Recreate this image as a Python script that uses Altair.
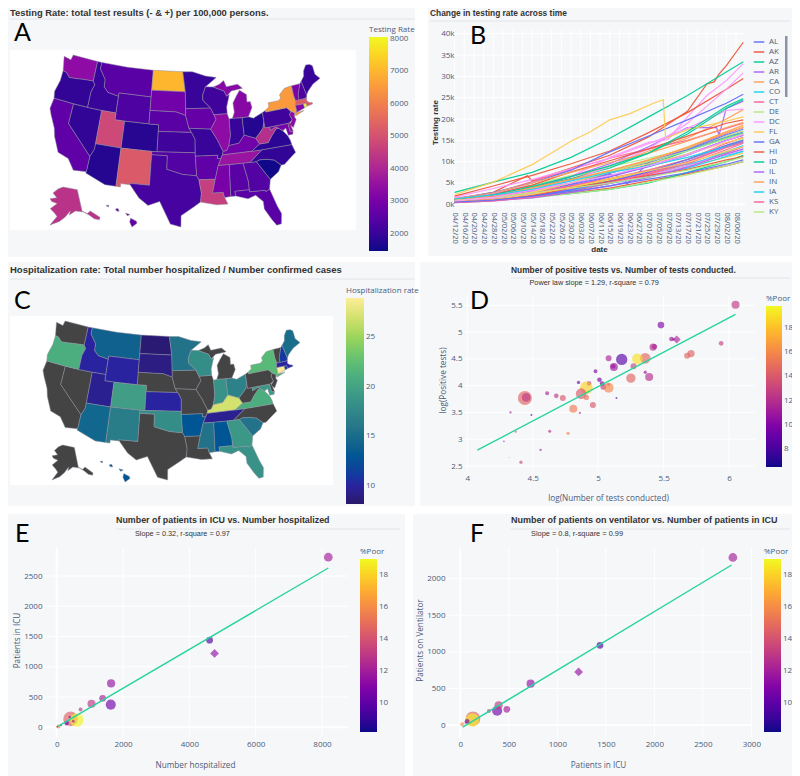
import math
import altair as alt
import pandas as pd

# ---------------------------------------------------------------- map data (lon, lat)
STATES = {
 "WA": [[(-124.7,48.4),(-123,48.2),(-122.8,49),(-117,49),(-117,46),(-119,45.9),(-121,45.7),(-122.3,45.6),(-123.2,46.2),(-124,46.3)]],
 "OR": [[(-124,46.3),(-123.2,46.2),(-122.3,45.6),(-121,45.7),(-119,45.9),(-117,46),(-116.5,45.5),(-117,44.3),(-117,42),(-120,42),(-124.2,42),(-124.5,43),(-124,44.8)]],
 "CA": [[(-124.2,42),(-120,42),(-120,39),(-114.6,35),(-114.7,32.7),(-117.1,32.5),(-118.5,34),(-120.6,34.5),(-122,36.6),(-122.5,37.8),(-123.8,39.5),(-124.4,40.4)]],
 "NV": [[(-120,42),(-117,42),(-114,42),(-114,37),(-114,36.2),(-114.6,35),(-120,39)]],
 "ID": [[(-117,49),(-116,49),(-116,48),(-114.5,46.6),(-114.4,45.5),(-113.4,44.8),(-111,44.5),(-111,42),(-114,42),(-117,42),(-117,44.3),(-116.5,45.5),(-117,46)]],
 "MT": [[(-116,49),(-110,49),(-104,49),(-104,46),(-104,45),(-111,45),(-111,44.5),(-113.4,44.8),(-114.4,45.5),(-114.5,46.6),(-116,48)]],
 "WY": [[(-111,45),(-104,45),(-104,43),(-104,41),(-109,41),(-111,41),(-111,42),(-111,44.5)]],
 "UT": [[(-114,42),(-111,42),(-111,41),(-109,41),(-109,37),(-114,37)]],
 "CO": [[(-109,41),(-104,41),(-102,41),(-102,40),(-102,37),(-103,37),(-109,37)]],
 "AZ": [[(-114,37),(-109,37),(-109,31.3),(-111,31.3),(-114.8,32.5),(-114.7,32.7),(-114.6,35),(-114,36.2)]],
 "NM": [[(-109,37),(-103,37),(-103,36.5),(-103,32),(-106.6,32),(-106.5,31.8),(-108.2,31.8),(-108.2,31.3),(-109,31.3)]],
 "ND": [[(-104,49),(-97.2,49),(-96.6,46),(-104,46)]],
 "SD": [[(-104,46),(-96.6,46),(-96.5,43.5),(-96.5,42.5),(-98.5,43),(-104,43),(-104,45)]],
 "NE": [[(-104,43),(-98.5,43),(-96.5,42.5),(-95.8,40.6),(-95.3,40),(-102,40),(-102,41),(-104,41)]],
 "KS": [[(-102,40),(-95.3,40),(-94.6,39),(-94.6,37),(-102,37)]],
 "OK": [[(-103,37),(-102,37),(-94.6,37),(-94.6,36.5),(-94.4,33.6),(-97,33.8),(-100,34.5),(-100,36.5),(-103,36.5)]],
 "TX": [[(-106.6,32),(-103,32),(-103,36.5),(-100,36.5),(-100,34.5),(-97,33.8),(-94.4,33.6),(-94,33),(-93.6,31),(-93.8,29.7),(-95,29),(-97.2,27.7),(-97.2,26),(-99,26.4),(-101,29.7),(-103,29),(-104.7,30),(-106.5,31.8)]],
 "MN": [[(-97.2,49),(-95,49),(-92,48.3),(-89.6,48),(-92.1,46.7),(-92.8,45.5),(-92.8,44.7),(-91.2,43.5),(-96.5,43.5),(-96.6,46)]],
 "IA": [[(-96.5,43.5),(-91.2,43.5),(-90.6,42.5),(-90.2,41.8),(-91.4,40.4),(-95.8,40.6),(-96.5,42.5)]],
 "MO": [[(-95.8,40.6),(-91.4,40.4),(-90.2,38.8),(-89.2,37),(-89.4,36.5),(-89.7,36),(-90.4,36),(-90.3,36.5),(-94.6,36.5),(-94.6,37),(-94.6,39),(-95.3,40)]],
 "AR": [[(-94.6,36.5),(-90.3,36.5),(-90.4,36),(-89.7,36),(-90.3,35),(-91,33),(-94,33),(-94.4,33.6)]],
 "LA": [[(-94,33),(-91,33),(-91.6,31),(-89.7,31),(-89.5,30.2),(-89,29.2),(-91,29.2),(-93.8,29.7),(-93.6,31)]],
 "WI": [[(-92.1,46.7),(-90.4,46.6),(-88.1,45.9),(-87.6,45.1),(-87,45.3),(-87.8,43.5),(-87.8,42.5),(-90.6,42.5),(-91.2,43.5),(-92.8,44.7),(-92.8,45.5)]],
 "IL": [[(-90.6,42.5),(-87.8,42.5),(-87.5,41.7),(-87.5,39.3),(-88,37.8),(-88.5,37.1),(-89.2,37),(-90.2,38.8),(-91.4,40.4),(-90.2,41.8)]],
 "IN": [[(-87.5,41.7),(-86.8,41.76),(-84.8,41.7),(-84.8,39.1),(-86,38),(-88,37.8),(-87.5,39.3)]],
 "OH": [[(-84.8,41.7),(-83.5,41.7),(-82.5,41.4),(-80.5,42),(-80.5,40.6),(-80.9,39.7),(-81.8,39),(-82.6,38.4),(-84.8,39.1)]],
 "KY": [[(-89.4,36.5),(-89.2,37),(-88.5,37.1),(-88,37.8),(-86,38),(-84.8,39.1),(-82.6,38.4),(-82,37.5),(-83.7,36.6)]],
 "TN": [[(-90.3,35),(-89.7,36),(-89.4,36.5),(-83.7,36.6),(-81.7,36.6),(-84.3,35),(-85.6,35),(-88.2,35)]],
 "MS": [[(-91,33),(-90.3,35),(-88.2,35),(-88.4,30.3),(-89.5,30.2),(-89.7,31),(-91.6,31)]],
 "AL": [[(-88.2,35),(-85.6,35),(-85,32.3),(-85,31),(-87.6,31),(-87.5,30.3),(-88.4,30.3)]],
 "GA": [[(-85.6,35),(-84.3,35),(-83.1,35),(-81,32.1),(-81.4,30.7),(-82.1,30.4),(-82.2,30.6),(-85,30.7),(-85,31),(-85,32.3)]],
 "FL": [[(-87.6,31),(-85,31),(-85,30.7),(-82.2,30.6),(-82.1,30.4),(-81.4,30.7),(-80.5,28),(-80,26.8),(-80.3,25.3),(-81.1,25.2),(-81.8,26.2),(-82.8,27.9),(-82.8,29),(-84,30.1),(-85.4,29.7),(-87.5,30.3)]],
 "SC": [[(-83.1,35),(-82.4,35.2),(-81,35.1),(-79.7,34.8),(-78.6,33.9),(-79.3,33),(-81,32.1)]],
 "NC": [[(-84.3,35),(-81.7,36.6),(-75.9,36.55),(-75.5,35.3),(-76.6,34.7),(-78,33.9),(-78.6,33.9),(-79.7,34.8),(-81,35.1),(-82.4,35.2),(-83.1,35)]],
 "VA": [[(-83.7,36.6),(-82,37.5),(-80.3,37.5),(-79.4,38.4),(-78.3,39.3),(-77.8,39.3),(-77.1,38.8),(-76.3,37.9),(-76,37.2),(-75.9,36.55),(-81.7,36.6)]],
 "WV": [[(-82.6,38.4),(-81.8,39),(-80.9,39.7),(-80.5,40.6),(-80.5,39.72),(-79.5,39.72),(-79.5,39.2),(-78.3,39.6),(-77.8,39.3),(-78.3,39.3),(-79.4,38.4),(-80.3,37.5),(-82,37.5)]],
 "MD": [[(-79.5,39.72),(-75.8,39.72),(-75.7,38.45),(-75.1,38.45),(-75.3,38),(-76.2,38),(-76.4,39.1),(-77.1,38.8),(-77.8,39.3),(-78.3,39.6),(-79.5,39.2)]],
 "DE": [[(-75.8,39.72),(-75.4,39.8),(-75.1,38.45),(-75.7,38.45)]],
 "DC": [[(-77.12,38.93),(-77.04,39),(-76.95,38.9),(-77.04,38.8)]],
 "PA": [[(-80.5,42),(-79.8,42.25),(-79.8,42),(-75.4,42),(-74.7,41.36),(-75.1,40.9),(-74.8,40.1),(-75.4,39.8),(-75.8,39.72),(-79.5,39.72),(-80.5,39.72),(-80.5,40.6)]],
 "NJ": [[(-75.1,40.9),(-74.7,41.36),(-74,41),(-74.2,40.4),(-74,40),(-74.9,38.95),(-75.5,39.5),(-74.8,40.1)]],
 "NY": [[(-79.8,42.25),(-79,42.7),(-79,43.27),(-76.8,43.3),(-76.2,43.6),(-76.3,44.1),(-75,44.9),(-73.35,45),(-73.4,43.6),(-73.25,42.75),(-73.5,42.05),(-73.5,41.3),(-73.65,41),(-72,41),(-73.9,40.55),(-74,41),(-74.7,41.36),(-75.4,42),(-79.8,42)]],
 "CT": [[(-73.5,42.05),(-71.8,42),(-71.8,41.35),(-73.65,41),(-73.5,41.3)]],
 "RI": [[(-71.8,42),(-71.35,42),(-71.15,41.5),(-71.8,41.35)]],
 "MA": [[(-73.25,42.75),(-72.5,42.73),(-71.3,42.7),(-70.8,42.85),(-71,42.3),(-70.6,41.95),(-70,41.8),(-70,41.6),(-71.15,41.5),(-71.35,42),(-71.8,42),(-73.5,42.05)]],
 "VT": [[(-73.35,45),(-71.5,45),(-72.4,43.5),(-72.5,42.73),(-73.25,42.75),(-73.4,43.6)]],
 "NH": [[(-71.5,45),(-71.1,45.3),(-70.7,43.1),(-70.8,42.85),(-71.3,42.7),(-72.5,42.73),(-72.4,43.5)]],
 "ME": [[(-71.1,45.3),(-70.3,45.9),(-70,46.7),(-69.2,47.45),(-68.3,47.35),(-67.8,47.05),(-67.8,45.7),(-67,44.9),(-68.8,44.4),(-70.2,43.6),(-70.7,43.1)]],
 "MI": [[(-86.8,41.76),(-84.8,41.7),(-83.5,41.7),(-82.5,43),(-82.7,43.9),(-83.4,43.9),(-83.3,45),(-84.7,45.75),(-85.5,45),(-86.4,44),(-86.3,42.6)],
        [(-90.4,46.6),(-89,46.95),(-88,47.45),(-87.5,46.5),(-85,46.7),(-84,46),(-84.7,45.95),(-86.5,45.8),(-87.6,45.1),(-88.1,45.9)]],
 "AK": [[(-156.5,71.3),(-141,69.7),(-141,60.3),(-137.5,58.9),(-135,59.7),(-130,55.9),(-131,55),(-134,56),(-136.5,58),(-140,59.8),(-146,60.8),(-151,59.3),(-150,61),(-154,58.5),(-158,56.5),(-164,54.6),(-160,58.5),(-162,59.8),(-166,61.5),(-161,64),(-166,64.6),(-168,65.6),(-162,66.5),(-166.5,68.3),(-162,70.3)]],
 "HI": [[(-155.9,20.25),(-155,19.8),(-154.9,19.5),(-155.7,18.95),(-156.05,19.7)],
        [(-156.7,21),(-156,20.8),(-156.4,20.6)],
        [(-158.3,21.6),(-157.9,21.7),(-157.7,21.3),(-158.1,21.3)],
        [(-159.8,22.1),(-159.4,22.2),(-159.4,21.9)]],
}
TESTING = {"ND":7000,"NY":6500,"RI":8000,"MA":5200,"NM":5200,"UT":4800,"LA":4600,"AK":4300,"WV":4200,"WA":3400,
 "TN":3600,"IL":3400,"MI":3300,"NJ":3400,"CT":3200,"VT":3100,"MD":3000,"DE":3500,"MS":3000,"KY":2900,"MT":2500,
 "SD":2900,"NE":2500,"WY":2300,"IA":2700,"OK":2400,"AR":2600,"AL":2500,"GA":2400,"FL":2500,"TX":2200,"CA":2600,
 "OR":1900,"ID":2000,"NV":1900,"AZ":1700,"CO":1750,"KS":2100,"MO":2000,"MN":2000,"WI":2100,"IN":2000,"OH":1700,
 "PA":2100,"VA":1800,"NC":1900,"SC":1500,"ME":2000,"NH":2300,"HI":2700,"DC":3300}
HOSP = {"OR":21,"ID":10,"MT":14,"WY":10,"ND":8.5,"SD":9,"MN":15.5,"WI":18,"CO":19.5,"UT":9.5,"AZ":14.5,"NM":16.5,
 "KS":10,"OK":18,"AR":13,"MS":15.5,"AL":13,"TN":9.5,"KY":27,"OH":17,"IN":18.5,"GA":19,"FL":18.5,"SC":15.5,"VA":21,
 "MD":19,"DC":19,"NY":22,"ME":15,"NH":11,"MA":10,"RI":11,"CT":29,"HI":13}

# ---------------------------------------------------------------- panel B data
STATE_ORDER = ["AL","AK","AZ","AR","CA","CO","CT","DE","DC","FL","GA","HI","ID","IL","IN","IA","KS","KY","LA","ME",
 "MD","MA","MI","MN","MS","MO","MT","NE","NV","NH","NJ","NM","NY","NC","ND","OH","OK","OR","PA","RI","SC","SD","TN",
 "TX","UT","VT","VA","WA","WV","WI","WY"]
KNOTS = ["04/12/20","04/28/20","05/14/20","05/30/20","06/15/20","07/01/20","07/17/20","08/02/20","08/09/20"]
RATE = {
 "AL":[800,1700,3000,4800,7000,9800,12800,15800,17000],
 "AK":[1200,2800,5500,8500,11500,15800,21800,32500,38000],
 "AZ":[600,1200,2300,4000,6500,9300,12500,15500,16700],
 "AR":[900,1800,3200,5000,7300,10000,13000,16600,18000],
 "CA":[700,1800,3600,6000,9000,12500,15500,20000,22200],
 "CO":[700,1300,2400,3800,5600,7800,10500,13800,15200],
 "CT":[1200,2600,5300,8200,10800,13000,15000,17800,19000],
 "DE":[1300,2600,4500,6800,8800,10800,13000,16000,17200],
 "DC":[1500,2500,4000,6500,11000,14500,20500,29000,33000],
 "FL":[1000,2200,3800,5800,7800,10200,13500,17000,18300],
 "GA":[700,1500,2800,4600,6500,8800,11500,15000,16200],
 "HI":[500,900,1700,2600,3800,5500,7200,9000,10000],
 "ID":[800,1100,1800,2500,3500,5000,7500,10000,11500],
 "IL":[900,2200,4000,6500,9500,13500,18000,22500,24200],
 "IN":[600,1300,2600,4200,6000,8000,10500,13600,14800],
 "IA":[600,1200,2300,4000,5700,7500,9400,11500,12500],
 "KS":[500,1000,2000,3200,4900,6700,9000,12000,13500],
 "KY":[600,1200,2400,4000,5800,7800,10400,13800,15200],
 "LA":[1700,3700,5800,8300,10800,14200,17800,22000,22300],
 "ME":[700,1300,2300,4000,5800,7400,8900,11000,12000],
 "MD":[800,1700,3200,5000,7300,9800,12800,16300,17600],
 "MA":[1900,4300,6800,9500,12500,16800,21500,27000,29500],
 "MI":[800,2000,4000,6000,8500,12000,16500,22500,24500],
 "MN":[500,1000,2500,4300,6500,9000,11800,15000,16200],
 "MS":[1000,2100,4000,5800,7900,10300,13300,17000,18600],
 "MO":[500,1000,2000,3200,4900,6500,8500,11200,12400],
 "MT":[1000,1800,2800,4300,6000,8000,10500,14300,15700],
 "NE":[600,1300,2800,5000,7600,10000,12500,15400,16500],
 "NV":[800,1500,3000,5500,9000,13000,19000,27000,30800],
 "NH":[700,1500,2800,5000,7500,9500,11800,14500,15500],
 "NJ":[1200,2800,5000,8000,12300,16000,19800,23700,25800],
 "NM":[1000,2300,4500,7600,10200,13000,16000,19000,19800],
 "NY":[2800,5200,7500,11000,15500,20500,25500,31000,33400],
 "NC":[500,1000,2100,3500,5300,7500,10000,13500,14700],
 "ND":[1300,2700,5000,7500,9800,12000,14800,18000,19200],
 "OH":[500,900,1800,3200,5000,7000,9000,12300,13800],
 "OK":[600,1200,2400,3800,5000,7000,9500,12800,14300],
 "OR":[500,900,1500,2500,3500,5200,6900,9000,10000],
 "PA":[800,1400,2400,3700,5000,6800,9000,11700,12800],
 "RI":[2300,5200,9300,14800,19800,23500,17500,19500,20500],
 "SC":[500,1000,1900,3400,5400,7600,10500,13800,15000],
 "SD":[600,1100,2100,3800,5400,6800,8200,10400,11200],
 "TN":[1000,2200,4200,6500,9000,12000,17000,23000,24800],
 "TX":[400,800,1500,2800,4300,6300,8700,11800,13000],
 "UT":[1000,2000,3800,5800,7900,10400,13300,16700,18000],
 "VT":[1300,2200,3500,5500,7500,9000,11000,13500,14500],
 "VA":[400,800,1700,3000,5000,7300,9900,13300,14500],
 "WA":[900,1600,2600,3800,5000,6400,8000,10000,11000],
 "WV":[800,1700,3300,5000,6800,9000,11600,14900,16400],
 "WI":[600,1100,2300,4000,6000,7800,9800,12400,13500],
 "WY":[500,1000,1900,3000,4300,5900,7400,9400,10400],
}
# finer readings of the few series whose jumps stand out
DETAIL = {
 "RI":[("05/18/20",10700),("06/07/20",17000),("06/23/20",21200),("07/03/20",23700),("07/07/20",24500),("07/08/20",15500)],
 "AK":[("05/12/20",6700),("05/14/20",5500),("07/25/20",28200),("07/28/20",28700),("07/30/20",30500)],
 "DC":[("05/12/20",4300),("05/14/20",3600),("07/09/20",15200),("07/25/20",25500)],
 "AL":[("06/21/20",6300),("06/22/20",4700)],
 "IL":[("07/29/20",18000),("07/30/20",16200)],
}
PALETTE = ["#636efa","#EF553B","#00cc96","#ab63fa","#FFA15A","#19d3f3","#FF6692","#B6E880","#FF97FF","#FECB52"]
ALL_DAYS = [d.strftime("%m/%d/%y") for d in pd.date_range("2020-04-12","2020-08-09")]
B_TICKS = ALL_DAYS[::4][:30]
LEGEND_STATES = STATE_ORDER[:18]

# ---------------------------------------------------------------- scatter data
D_X = [6.05,5.48,5.94,5.60,5.56,5.575,5.42,5.43,5.71,5.68,5.36,5.30,5.18,5.08,5.12,5.115,5.27,4.98,5.36,5.39,5.25,5.01,4.85,4.93,5.03,5.04,5.08,5.08,4.91,4.87,4.91,4.61,4.68,4.73,4.44,4.45,4.96,4.81,5.14,4.49,4.33,4.86,4.63,4.77,4.37,4.28,4.56,4.41,4.32,4.08]
D_Y = [5.51,5.13,4.79,4.86,4.87,4.865,4.72,4.73,4.60,4.56,4.51,4.50,4.49,4.51,4.35,4.36,4.36,4.27,4.25,4.16,4.14,4.11,4.06,4.04,4.04,3.98,4.02,3.96,3.96,3.85,3.78,3.86,3.81,3.77,3.77,3.78,3.64,3.57,3.77,3.45,3.50,3.49,3.15,3.11,3.14,2.96,2.80,2.57,2.66,2.80]
D_B = [10,6.8,3.3,10,3.3,1,8,4.3,8,5.5,17.4,17.4,19.7,5.5,9.8,3.3,5.5,2.4,1.7,9.8,13.3,3.3,1.7,3.3,3.3,5.5,1.7,15,24.6,17.4,4.3,2.4,3.3,5.5,30,11.5,5.5,9.8,0.6,0.6,0.8,0.8,1.4,1.7,0.8,0.4,0.8,1.7,0.1,0.3]
D_C = [12.5,10,12.8,11.5,11,11,12,11.5,14.5,14.5,14.5,19,8.5,11.5,11,11,13,10,11,12,14.5,9.5,9.5,11,9.5,12.5,14,16,18.5,14,15,11.5,12.5,14,14.5,12.5,14,15.5,9,8.5,11.5,12.5,12,16,14,10.5,11,13.5,10,14]
D_KIND = ["c","c","c","d"]+["c"]*46
D_LINE_X, D_LINE_Y = [4.08,6.05],[2.80,5.33]

E_X = [8190,4610,4760,1640,1630,1385,1050,720,420,610,390,300,130,50,20,500]
E_Y = [2810,1440,1220,725,375,480,390,295,140,120,170,70,35,15,10,100]
E_B = [6.7,4,6.7,5.8,9,4,5.8,1.4,19,16,0.4,2,0.4,1.4,0.3,0.7]
E_C = [12,9.5,11.5,11.5,10.5,12,13,13,14.5,18.8,9,10.5,11,16,12,12]
E_KIND = ["c","c","d"]+["c"]*13
E_LINE_X, E_LINE_Y = [50,8190],[20,2632]

F_X = [2810,1440,1220,725,380,480,395,295,130,125,70,20,55]
F_Y = [2290,1090,725,565,195,215,270,190,85,70,50,10,30]
F_B = [6.7,4,6.7,5.8,9,4,5.8,1.4,19,16,2,1.4,0.4]
F_C = [12,9.5,11.5,11.5,10.5,12,13,13,14.5,18.8,10.5,16,12]
F_KIND = ["c","c","d"]+["c"]*10
F_LINE_X, F_LINE_Y = [25,2797],[-30,2187]

HALINE = ["#29186b","#2a23a0","#0f4799","#125f8e","#267489","#358888","#419d85","#51b27c","#6fc66b","#a0d65b","#d4e170","#fdee99"]

# ---------------------------------------------------------------- helpers
W, H = 784, 768
FONT = "Open Sans"
TICK = "#4b5b7a"
TITLE_FONT = "Liberation Sans"
layers = []

def PX(v): return v - 8
def PY(v): return v - 8

def conic(lon, lat, lon0, lat0, p1, p2):
    r = math.radians
    s1, s2 = math.sin(r(p1)), math.sin(r(p2))
    n = (s1 + s2) / 2
    c = math.cos(r(p1))**2 + 2*n*s1
    rho0 = math.sqrt(c - 2*n*math.sin(r(lat0))) / n
    rho = math.sqrt(c - 2*n*math.sin(r(lat))) / n
    th = n * r(lon - lon0)
    return rho*math.sin(th), -(rho0 - rho*math.cos(th))

def albers(st, lon, lat):
    if st == "AK":
        return conic(lon, lat, -154, 50, 55, 65)
    if st == "HI":
        return conic(lon, lat, -157, 3, 8, 18)
    return conic(lon, lat, -96, 37.5, 29.5, 45.5)

def fit_group(names, box_):
    pts = [albers(st, *p) for st in names for ring in STATES[st] for p in ring]
    x0, x1 = min(p[0] for p in pts), max(p[0] for p in pts)
    y0, y1 = min(p[1] for p in pts), max(p[1] for p in pts)
    bx0, by0, bx1, by1 = box_
    return lambda p: [PX(bx0 + (p[0]-x0)/(x1-x0)*(bx1-bx0)), PY(by0 + (p[1]-y0)/(y1-y0)*(by1-by0))]

def features(values, main_box, ak_box, hi_box, only_missing=False):
    lower = [s for s in STATES if s not in ("AK","HI")]
    fit = {s: fit_group(lower, main_box) for s in lower}
    fit["AK"] = fit_group(["AK"], ak_box)
    fit["HI"] = fit_group(["HI"], hi_box)
    out = []
    for st, rings in STATES.items():
        has = st in values
        if has == only_missing:
            continue
        coords = []
        for ring in rings:
            r = [fit[st](albers(st, *p)) for p in ring]
            coords.append([r + [r[0]]])
        out.append({"type":"Feature","id":st,"properties":{"v":values.get(st)},
                    "geometry":{"type":"MultiPolygon","coordinates":coords}})
    return out

def box(x0,y0,x1,y1,color):
    layers.append(alt.Chart(pd.DataFrame({"a":[0]})).mark_rect(color=color,opacity=1).encode(
        x=alt.value(PX(x0)),x2=alt.value(PX(x1)),y=alt.value(PY(y0)),y2=alt.value(PY(y1))))

def hline(x0,x1,y,color="#e2e4e8"):
    layers.append(alt.Chart(pd.DataFrame({"a":[0]})).mark_rule(color=color,strokeWidth=1).encode(
        x=alt.value(PX(x0)),x2=alt.value(PX(x1)),y=alt.value(PY(y))))

def label(s,x,y,size,font=TITLE_FONT,weight="normal",color="#333333"):
    layers.append(alt.Chart(pd.DataFrame({"t":[s]})).mark_text(align="left",baseline="middle",fontSize=size,font=font,fontWeight=weight,color=color).encode(
        text="t:N",x=alt.value(PX(x)),y=alt.value(PY(y))))

def cbar(title,bar_x,bar_top,bar_bot,thick,vals):
    return alt.Legend(title=title,orient="none",legendX=PX(bar_x),legendY=PY(bar_top)-12,direction="vertical",
        gradientLength=bar_bot-bar_top,gradientThickness=thick,gradientStrokeWidth=0,gradientOpacity=1,values=vals,format="d",
        titleFont=FONT,titleFontSize=8,titleFontWeight="normal",titleColor=TICK,titlePadding=3,
        labelFont=FONT,labelFontSize=8,labelColor=TICK,labelOffset=2,labelOverlap=False,tickCount=len(vals))

def grid_v(ticks,scale,y0,y1,width=1):
    layers.append(alt.Chart(pd.DataFrame({"v":ticks})).mark_rule(color="#ffffff",strokeWidth=width).encode(
        x=alt.X("v:Q",scale=scale,axis=None),y=alt.value(PY(y0)),y2=alt.value(PY(y1))))

def grid_h(ticks,scale,x0,x1,width=1):
    layers.append(alt.Chart(pd.DataFrame({"v":ticks})).mark_rule(color="#ffffff",strokeWidth=width).encode(
        y=alt.Y("v:Q",scale=scale,axis=None),x=alt.value(PX(x0)),x2=alt.value(PX(x1))))

def scatter(xs,ys,bs,cs,kinds,lx,ly,xdom,xrng,ydom,yrng,xticks,yticks,xtitle,ytitle,frame,axis_x,axis_y,
            xtitle_pos,ytitle_pos,fmt,cdom,legend,bmax,amax,zero=False):
    x0,y0,x1,y1 = frame
    sx = alt.Scale(domain=xdom,range=[PX(xrng[0]),PX(xrng[1])],nice=False,zero=False)
    sy = alt.Scale(domain=ydom,range=[PY(yrng[0]),PY(yrng[1])],nice=False,zero=False)
    grid_v(xticks,sx,y0,y1)
    grid_h(yticks,sy,x0,x1)
    if zero:
        grid_v([0],sx,y0,y1,2)
        grid_h([0],sy,x0,x1,2)
    df = pd.DataFrame({"x":xs,"y":ys,"b":bs,"c":cs,"k":kinds})
    ax = alt.Axis(values=xticks,format=fmt,grid=False,domain=False,ticks=False,orient="bottom",offset=PY(axis_y)-H,
        labelFont=FONT,labelFontSize=8,labelColor=TICK,labelPadding=3,labelAngle=0,labelFlush=False,labelOverlap=False,zindex=1,
        title=xtitle,titleFont=FONT,titleFontSize=8.2,titleFontWeight="normal",titleColor=TICK,
        titleX=PX(xtitle_pos[0]),titleY=xtitle_pos[1]-axis_y,titleBaseline="middle",titleAlign="center",titleAnchor="start")
    ay = alt.Axis(values=yticks,format=fmt,grid=False,domain=False,ticks=False,orient="left",offset=-PX(axis_x),
        labelFont=FONT,labelFontSize=8,labelColor=TICK,labelPadding=1,labelOverlap=False,labelFlush=False,zindex=1,
        title=ytitle,titleFont=FONT,titleFontSize=8.2,titleFontWeight="normal",titleColor=TICK,
        titleX=ytitle_pos[0]-axis_x,titleY=PY(ytitle_pos[1]),titleBaseline="middle",titleAlign="center",titleAnchor="start",titleAngle=-90)
    layers.append(alt.Chart(df).mark_point(filled=True,opacity=1,fillOpacity=0.65,strokeWidth=0).encode(
        x=alt.X("x:Q",scale=sx,axis=ax),
        y=alt.Y("y:Q",scale=sy,axis=ay),
        size=alt.Size("b:Q",scale=alt.Scale(domain=[0,bmax],range=[0,amax],zero=True,nice=False),legend=None),
        shape=alt.Shape("k:N",scale=alt.Scale(domain=["c","d"],range=["circle","diamond"]),legend=None),
        color=alt.Color("c:Q",scale=alt.Scale(scheme="plasma",domain=cdom,nice=False),legend=legend)))
    layers.append(alt.Chart(pd.DataFrame({"x":lx,"y":ly})).mark_line(color="#27d49b",strokeWidth=1.4).encode(
        x=alt.X("x:Q",scale=sx,axis=None),y=alt.Y("y:Q",scale=sy,axis=None)))

# ---------------------------------------------------------------- panel backgrounds
BG = "#f6f7f9"
box(0,3,415,257,BG); box(428,4,800,256,BG); box(0,262,415,506,BG)
box(420,262,800,506,BG); box(0,514,405,776,BG); box(413,514,800,776,BG)
box(10,50,356,230,"#ffffff"); box(10,316,333,485,"#ffffff")
hline(10,415,19); hline(430,790,21); hline(10,415,279); hline(511,790,278); hline(116,400,529); hline(511,790,529)

IDENT = dict(type="identity",scale=1,translate=[0,0])
A_BOXES = ((50,55,320,227),(50,187,100,225),(106,205,137,227))
C_BOXES = ((43,321,300,480),(52,445,93,480),(100,461,130,482))

# ---------------------------------------------------------------- panel A
layers.append(alt.Chart(alt.Data(values=features(TESTING,*A_BOXES))).mark_geoshape(stroke="#8d8f9c",strokeWidth=0.5).encode(
    color=alt.Color("properties.v:Q",scale=alt.Scale(scheme="plasma",domain=[1467,8050],nice=False),
                    legend=cbar("Testing Rate",369,38,252,19,[2000,3000,4000,5000,6000,7000,8000]))
).project(**IDENT))

# ---------------------------------------------------------------- panel C
layers.append(alt.Chart(alt.Data(values=features(HOSP,*C_BOXES,True))).mark_geoshape(fill="#444444",stroke="#8d8f9c",strokeWidth=0.5
).project(**IDENT))
hmin, hmax = 8.15, 28.94
layers.append(alt.Chart(alt.Data(values=features(HOSP,*C_BOXES))).mark_geoshape(stroke="#8d8f9c",strokeWidth=0.5).encode(
    color=alt.Color("properties.v:Q",scale=alt.Scale(domain=[hmin+(hmax-hmin)*i/11 for i in range(12)],range=HALINE),
                    legend=cbar("Hospitalization rate",346,299,505,18,[10,15,20,25]))
).project(**IDENT))

# ---------------------------------------------------------------- panel B
rows = []
for st in STATE_ORDER:
    pts = dict(zip(KNOTS,RATE[st]))
    pts.update(dict(DETAIL.get(st,[])))
    if st == "RI":
        pts.pop("07/01/20",None)
    for d,v in pts.items():
        rows.append({"date":d,"state":st,"rate":v})
b_df = pd.DataFrame(rows)
b_x = alt.Scale(type="point",domain=ALL_DAYS,range=[PX(453.3),PX(744.5)])
b_y = alt.Scale(domain=[0,40000],range=[PY(204.3),PY(33.7)],nice=False,zero=False)
layers.append(alt.Chart(pd.DataFrame({"d":B_TICKS})).mark_rule(color="#ffffff",strokeWidth=1).encode(
    x=alt.X("d:O",scale=b_x,axis=None),y=alt.value(PY(30)),y2=alt.value(PY(208))))
grid_h(list(range(0,45000,5000)),b_y,453,745)
grid_h([0],b_y,453,745,2)
layers.append(alt.Chart(b_df).mark_line(strokeWidth=1.2,opacity=0.95).encode(
    x=alt.X("date:O",scale=b_x,axis=alt.Axis(values=B_TICKS,grid=False,domain=False,ticks=False,orient="bottom",offset=PY(209)-H,
        labelFont=FONT,labelFontSize=7.5,labelColor=TICK,labelPadding=3,labelAngle=90,labelOverlap=False,labelFlush=False,zindex=1,
        title="date",titleFont=TITLE_FONT,titleFontSize=8,titleFontWeight="bold",titleColor="#333333",
        titleX=PX(599),titleY=40,titleBaseline="middle",titleAlign="center",titleAnchor="start")),
    y=alt.Y("rate:Q",scale=b_y,axis=alt.Axis(values=list(range(0,45000,5000)),format="~s",grid=False,domain=False,ticks=False,orient="left",offset=-PX(455),
        labelFont=FONT,labelFontSize=8,labelColor=TICK,labelPadding=1,labelOverlap=False,labelFlush=False,zindex=1,
        title="Testing rate",titleFont=TITLE_FONT,titleFontSize=8,titleFontWeight="bold",titleColor="#333333",
        titleX=435-455,titleY=PY(122),titleBaseline="middle",titleAlign="center",titleAnchor="start",titleAngle=-90)),
    color=alt.Color("state:N",scale=alt.Scale(domain=STATE_ORDER,range=PALETTE),
        legend=alt.Legend(title=None,orient="none",legendX=PX(753),legendY=PY(36),values=LEGEND_STATES,symbolType="stroke",
            symbolSize=110,symbolStrokeWidth=1.5,labelFont=FONT,labelFontSize=8,labelColor=TICK,rowPadding=0,labelOffset=4,columns=1)),
    detail="state:N"))
box(785,36,787.5,97,"#8a94a9")

# ---------------------------------------------------------------- panels D, E, F
scatter(D_X,D_Y,D_B,D_C,D_KIND,D_LINE_X,D_LINE_Y,[4,6],[467.3,729],[2.5,5.5],[466,305.3],[4,4.5,5,5.5,6],[2.5,3,3.5,4,4.5,5,5.5],
        "log(Number of tests conducted)","log(Positive tests)",(463,295,755,470),463,471,(608,498),(443,380),"~g",[6.55,19.77],
        cbar("%Poor",766,307,468,16,[8,10,12,14,16,18]),30,196)
scatter(E_X,E_Y,E_B,E_C,E_KIND,E_LINE_X,E_LINE_Y,[0,8000],[56.7,322],[0,2500],[727.3,576],[0,2000,4000,6000,8000],[0,500,1000,1500,2000,2500],
        "Number hospitalized","Patients in ICU",(43,548,348,737),43,737,(195,765),(17,640),"d",[8.17,18.98],
        cbar("%Poor",360,560,733,17,[10,12,14,16,18]),19,216,True)
scatter(F_X,F_Y,F_B,F_C,F_KIND,F_LINE_X,F_LINE_Y,[0,3000],[460.3,751.3],[0,2000],[725,578.7],[0,500,1000,1500,2000,2500,3000],[0,500,1000,1500,2000],
        "Patients in ICU","Patients on Ventilator",(446,548,752,737),446,737,(598,765),(420,640),"d",[8.17,18.98],
        cbar("%Poor",764,560,733,17,[10,12,14,16,18]),19,216,True)

# ---------------------------------------------------------------- text
label("Testing Rate: total test results (- & +) per 100,000 persons.",10,13,9.4,weight="bold")
label("Change in testing rate across time",430,13,8.4,weight="bold")
label("Hospitalization rate: Total number hospitalized / Number confirmed cases",10,270,9.5,weight="bold")
label("Number of positive tests vs. Number of tests conducted.",511,270,8.4,weight="bold")
label("Number of patients in ICU vs. Number hospitalized",116,520,8.9,weight="bold")
label("Number of patients on ventilator vs. Number of patients in ICU",511,520,9,weight="bold")
label("Power law slope = 1.29, r-square = 0.79",529.5,283,7.3)
label("Slope = 0.32, r-square = 0.97",135,534,7.3)
label("Slope = 0.8, r-square = 0.99",531,534,7.4)
for s,x,y in [("A",14,33),("B",470,36),("C",14,301),("D",470,301),("E",15,534),("F",470,534)]:
    label(s,x,y,25,font="Lato",color="#000000")

chart = (alt.layer(*layers)
    .resolve_scale(x="independent",y="independent",color="independent",size="independent",shape="independent")
    .resolve_axis(x="independent",y="independent")
    .resolve_legend(color="independent",size="independent",shape="independent")
    .properties(width=W,height=H,padding=0,autosize=alt.AutoSizeParams(type="none",contains="padding"),background="#ffffff")
    .configure_view(strokeWidth=0))
chart.save("out.html",embed_options={"renderer":"svg","actions":False})
